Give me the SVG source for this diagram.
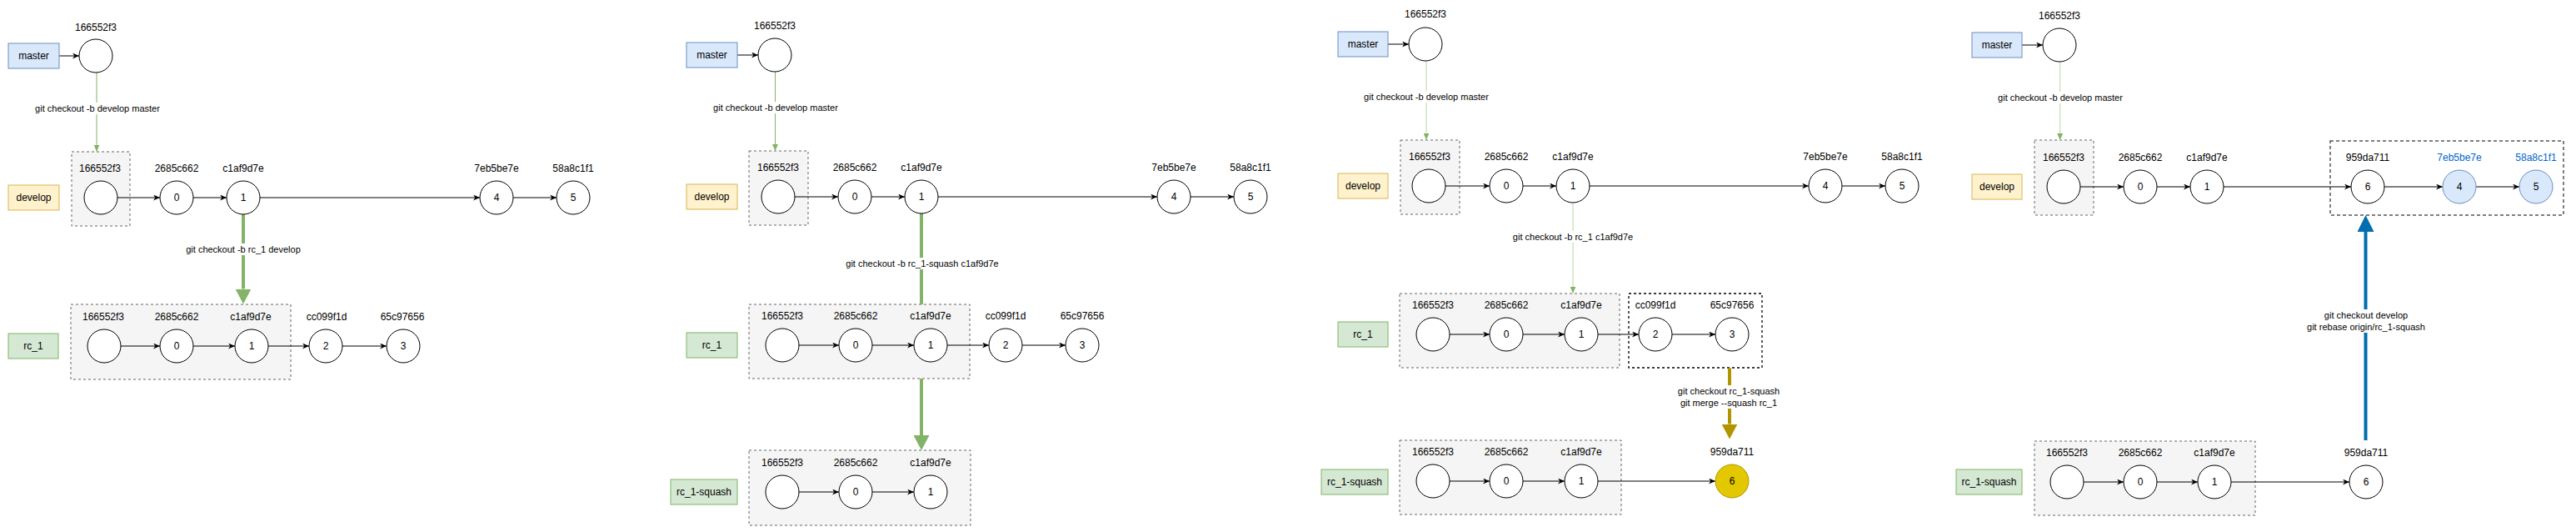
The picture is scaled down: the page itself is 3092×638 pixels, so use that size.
<svg xmlns="http://www.w3.org/2000/svg" width="3092" height="638" viewBox="0 0 3092 638">
<style>
text{font-family:"Liberation Sans",Arial,Helvetica,sans-serif;fill:#000;text-anchor:middle;dominant-baseline:central}
.t{font-size:12px}
.et{font-size:11px}
.blt{fill:#0066CC}
.c{fill:#fff;stroke:#000;stroke-width:1}
.cb{fill:#dae8fc;stroke:#6c8ebf;stroke-width:1}
.cy{fill:#e3c800;stroke:#b09500;stroke-width:1}
.box{fill:#f5f5f5;stroke:#666;stroke-width:1;stroke-dasharray:3 3}
.bk{fill:none;stroke:#000;stroke-width:1.3;stroke-dasharray:3 3}
.dk{fill:none;stroke:#555;stroke-width:1.5;stroke-dasharray:4 3}
.bm{fill:#dae8fc;stroke:#6c8ebf}
.bd{fill:#fff2cc;stroke:#d6b656}
.bg{fill:#d5e8d4;stroke:#82b366}
.e{fill:none;stroke:#000;stroke-width:1;marker-end:url(#a)}
.g{fill:none;stroke:#82b366;stroke-width:1;marker-end:url(#ag)}
.gl{fill:none;stroke:#b7d5a6;stroke-width:1;marker-end:url(#ag)}
.gt{fill:none;stroke:#82b366;stroke-width:4;marker-end:url(#bgr)}
.ot{fill:none;stroke:#b09500;stroke-width:4;marker-end:url(#bo)}
.bt{fill:none;stroke:#006EAF;stroke-width:4;marker-end:url(#bb)}
.lb{fill:#fff;stroke:none}
</style>
<defs>
<marker id="a" viewBox="0 0 10 10" refX="10" refY="5" markerWidth="8" markerHeight="7" markerUnits="userSpaceOnUse" orient="auto" preserveAspectRatio="none"><path d="M0,0 L10,5 L0,10 L3,5 z" fill="#000"/></marker>
<marker id="ag" viewBox="0 0 10 10" refX="10" refY="5" markerWidth="8" markerHeight="7" markerUnits="userSpaceOnUse" orient="auto" preserveAspectRatio="none"><path d="M0,0 L10,5 L0,10 z" fill="#82b366"/></marker>
<marker id="bgr" viewBox="0 0 10 10" refX="0" refY="5" markerWidth="18" markerHeight="19" markerUnits="userSpaceOnUse" orient="auto" preserveAspectRatio="none"><path d="M0,0 L10,5 L0,10 z" fill="#82b366"/></marker>
<marker id="bo" viewBox="0 0 10 10" refX="0" refY="5" markerWidth="18" markerHeight="19" markerUnits="userSpaceOnUse" orient="auto" preserveAspectRatio="none"><path d="M0,0 L10,5 L0,10 z" fill="#b09500"/></marker>
<marker id="bb" viewBox="0 0 10 10" refX="0" refY="5" markerWidth="20" markerHeight="20" markerUnits="userSpaceOnUse" orient="auto" preserveAspectRatio="none"><path d="M0,0 L10,5 L0,10 z" fill="#006EAF"/></marker>
</defs>
<rect width="3092" height="638" fill="#fff"/>

<g id="containers">
<rect class="box" x="86" y="182" width="70" height="89"/>
<rect class="box" x="85" y="365" width="264" height="90"/>
<rect class="box" x="899" y="181" width="71" height="89"/>
<rect class="box" x="899" y="365" width="265" height="89"/>
<rect class="box" x="899" y="540" width="266" height="90"/>
<rect class="box" x="1681" y="168" width="71" height="89"/>
<rect class="box" x="1680" y="352" width="264" height="89"/>
<rect class="bk" x="1955" y="352" width="160" height="89"/>
<rect class="box" x="1680" y="528" width="266" height="89"/>
<rect class="box" x="2442" y="168" width="71" height="90"/>
<rect class="dk" x="2797" y="169" width="280" height="89"/>
<rect class="box" x="2442" y="529" width="265" height="89"/>
</g>

<g id="connectors">
<!-- panel 1 -->
<path class="e" d="M71,67 H95"/>
<path class="g" d="M116,87 V181.7"/>
<rect class="lb" x="41" y="123" width="152" height="14"/>
<text class="et" x="117" y="130">git checkout -b develop master</text>
<path class="e" d="M141,237 H192"/>
<path class="e" d="M232,237 H272"/>
<path class="e" d="M312,237 H576"/>
<path class="e" d="M616,237 H668"/>
<path class="gt" d="M292,257 V346.5"/>
<rect class="lb" x="222" y="292" width="140" height="14"/>
<text class="et" x="292" y="299">git checkout -b rc_1 develop</text>
<path class="e" d="M145,415 H192"/>
<path class="e" d="M232,415 H282"/>
<path class="e" d="M322,415 H371"/>
<path class="e" d="M411,415 H464"/>
<!-- panel 2 -->
<path class="e" d="M885,66 H910"/>
<path class="g" d="M930.5,86 V181"/>
<rect class="lb" x="855" y="122" width="152" height="14"/>
<text class="et" x="931" y="129">git checkout -b develop master</text>
<path class="e" d="M954,236 H1006"/>
<path class="e" d="M1046,236 H1086"/>
<path class="e" d="M1126,236 H1389"/>
<path class="e" d="M1429,236 H1481"/>
<path class="gt" d="M1106,256 V365 M1106,454 V522"/>
<rect class="lb" x="1014" y="309" width="186" height="14"/>
<text class="et" x="1107" y="316">git checkout -b rc_1-squash c1af9d7e</text>
<path class="e" d="M959,414 H1007"/>
<path class="e" d="M1047,414 H1097"/>
<path class="e" d="M1137,414 H1187"/>
<path class="e" d="M1227,414 H1279"/>
<path class="e" d="M959,590 H1007"/>
<path class="e" d="M1047,590 H1097"/>
<!-- panel 3 -->
<path class="e" d="M1666,53 H1691"/>
<path class="gl" d="M1712,73 V167.7"/>
<rect class="lb" x="1636" y="109" width="152" height="14"/>
<text class="et" x="1712" y="116.3">git checkout -b develop master</text>
<path class="e" d="M1735,223 H1788"/>
<path class="e" d="M1828,223 H1868"/>
<path class="e" d="M1908,223 H2171"/>
<path class="e" d="M2211,223 H2263"/>
<path class="gl" d="M1888,243 V351.7"/>
<rect class="lb" x="1815" y="277" width="146" height="14"/>
<text class="et" x="1888" y="284">git checkout -b rc_1 c1af9d7e</text>
<path class="e" d="M1740,401 H1788"/>
<path class="e" d="M1828,401 H1878"/>
<path class="e" d="M1918,401 H1967"/>
<path class="e" d="M2007,401 H2059"/>
<path class="ot" d="M2076,441.3 V508.5"/>
<rect class="lb" x="2013" y="462" width="124" height="28"/>
<text class="et" x="2075" y="469.3">git checkout rc_1-squash</text>
<text class="et" x="2075" y="483.3">git merge --squash rc_1</text>
<path class="e" d="M1740,577 H1788"/>
<path class="e" d="M1828,577 H1878"/>
<path class="e" d="M1918,577 H2059"/>
<!-- panel 4 -->
<path class="e" d="M2427,54 H2452"/>
<path class="gl" d="M2472.7,74 V168"/>
<rect class="lb" x="2397" y="110" width="152" height="14"/>
<text class="et" x="2473" y="117.3">git checkout -b develop master</text>
<path class="e" d="M2497,224 H2549"/>
<path class="e" d="M2589,224 H2629"/>
<path class="e" d="M2669,224 H2822"/>
<path class="e" d="M2862,224 H2932"/>
<path class="e" d="M2972,224 H3024"/>
<path class="bt" d="M2839.5,528 V278"/>
<rect class="lb" x="2768" y="371" width="144" height="28"/>
<text class="et" x="2840" y="378">git checkout develop</text>
<text class="et" x="2840" y="392">git rebase origin/rc_1-squash</text>
<path class="e" d="M2501,578 H2549"/>
<path class="e" d="M2589,578 H2638"/>
<path class="e" d="M2678,578 H2820"/>
</g>

<!-- ===== Panel 1 nodes ===== -->
<g id="p1-master-label"><rect class="bm" x="10" y="52" width="61" height="30"/><text class="t" x="40.5" y="67">master</text></g>
<g id="p1-master-c"><circle class="c" cx="115" cy="67" r="20"/><text class="t" x="115" y="32.5">166552f3</text></g>
<g id="p1-develop-label"><rect class="bd" x="10" y="222" width="61" height="30"/><text class="t" x="40.5" y="237">develop</text></g>
<g id="p1-d-init"><circle class="c" cx="121" cy="237" r="20"/><text class="t" x="120" y="201.7">166552f3</text></g>
<g id="p1-d-0"><circle class="c" cx="212" cy="237" r="20"/><text class="t" x="212" y="237">0</text><text class="t" x="212" y="201.7">2685c662</text></g>
<g id="p1-d-1"><circle class="c" cx="292" cy="237" r="20"/><text class="t" x="292" y="237">1</text><text class="t" x="292" y="201.7">c1af9d7e</text></g>
<g id="p1-d-4"><circle class="c" cx="596" cy="237" r="20"/><text class="t" x="596" y="237">4</text><text class="t" x="596" y="201.7">7eb5be7e</text></g>
<g id="p1-d-5"><circle class="c" cx="688" cy="237" r="20"/><text class="t" x="688" y="237">5</text><text class="t" x="688" y="201.7">58a8c1f1</text></g>
<g id="p1-rc1-label"><rect class="bg" x="10" y="400" width="60" height="30"/><text class="t" x="40" y="415">rc_1</text></g>
<g id="p1-r-init"><circle class="c" cx="125" cy="415" r="20"/><text class="t" x="124" y="380">166552f3</text></g>
<g id="p1-r-0"><circle class="c" cx="212" cy="415" r="20"/><text class="t" x="212" y="415">0</text><text class="t" x="212" y="380">2685c662</text></g>
<g id="p1-r-1"><circle class="c" cx="302" cy="415" r="20"/><text class="t" x="302" y="415">1</text><text class="t" x="301" y="380">c1af9d7e</text></g>
<g id="p1-r-2"><circle class="c" cx="391" cy="415" r="20"/><text class="t" x="391" y="415">2</text><text class="t" x="392" y="380">cc099f1d</text></g>
<g id="p1-r-3"><circle class="c" cx="484" cy="415" r="20"/><text class="t" x="484" y="415">3</text><text class="t" x="483" y="380">65c97656</text></g>

<!-- ===== Panel 2 nodes ===== -->
<g id="p2-master-label"><rect class="bm" x="824" y="51" width="61" height="30"/><text class="t" x="854.5" y="66">master</text></g>
<g id="p2-master-c"><circle class="c" cx="930" cy="66" r="20"/><text class="t" x="930" y="30.7">166552f3</text></g>
<g id="p2-develop-label"><rect class="bd" x="824" y="221" width="61" height="30"/><text class="t" x="854.5" y="236">develop</text></g>
<g id="p2-d-init"><circle class="c" cx="934" cy="236" r="20"/><text class="t" x="934" y="201">166552f3</text></g>
<g id="p2-d-0"><circle class="c" cx="1026" cy="236" r="20"/><text class="t" x="1026" y="236">0</text><text class="t" x="1026" y="201">2685c662</text></g>
<g id="p2-d-1"><circle class="c" cx="1106" cy="236" r="20"/><text class="t" x="1106" y="236">1</text><text class="t" x="1106" y="201">c1af9d7e</text></g>
<g id="p2-d-4"><circle class="c" cx="1409" cy="236" r="20"/><text class="t" x="1409" y="236">4</text><text class="t" x="1409" y="201">7eb5be7e</text></g>
<g id="p2-d-5"><circle class="c" cx="1501" cy="236" r="20"/><text class="t" x="1501" y="236">5</text><text class="t" x="1501" y="201">58a8c1f1</text></g>
<g id="p2-rc1-label"><rect class="bg" x="824" y="399" width="61" height="30"/><text class="t" x="854.5" y="414">rc_1</text></g>
<g id="p2-r-init"><circle class="c" cx="939" cy="414" r="20"/><text class="t" x="939" y="379">166552f3</text></g>
<g id="p2-r-0"><circle class="c" cx="1027" cy="414" r="20"/><text class="t" x="1027" y="414">0</text><text class="t" x="1027" y="379">2685c662</text></g>
<g id="p2-r-1"><circle class="c" cx="1117" cy="414" r="20"/><text class="t" x="1117" y="414">1</text><text class="t" x="1117" y="379">c1af9d7e</text></g>
<g id="p2-r-2"><circle class="c" cx="1207" cy="414" r="20"/><text class="t" x="1207" y="414">2</text><text class="t" x="1207" y="379">cc099f1d</text></g>
<g id="p2-r-3"><circle class="c" cx="1299" cy="414" r="20"/><text class="t" x="1299" y="414">3</text><text class="t" x="1299" y="379">65c97656</text></g>
<g id="p2-squash-label"><rect class="bg" x="805" y="575" width="80" height="30"/><text class="t" x="845" y="590">rc_1-squash</text></g>
<g id="p2-s-init"><circle class="c" cx="939" cy="590" r="20"/><text class="t" x="939" y="555">166552f3</text></g>
<g id="p2-s-0"><circle class="c" cx="1027" cy="590" r="20"/><text class="t" x="1027" y="590">0</text><text class="t" x="1027" y="555">2685c662</text></g>
<g id="p2-s-1"><circle class="c" cx="1117" cy="590" r="20"/><text class="t" x="1117" y="590">1</text><text class="t" x="1117" y="555">c1af9d7e</text></g>

<!-- ===== Panel 3 nodes ===== -->
<g id="p3-master-label"><rect class="bm" x="1606" y="38" width="60" height="30"/><text class="t" x="1636" y="53">master</text></g>
<g id="p3-master-c"><circle class="c" cx="1711" cy="53" r="20"/><text class="t" x="1711" y="17.3">166552f3</text></g>
<g id="p3-develop-label"><rect class="bd" x="1606" y="208" width="60" height="30"/><text class="t" x="1636" y="223">develop</text></g>
<g id="p3-d-init"><circle class="c" cx="1715" cy="223" r="20"/><text class="t" x="1716" y="188">166552f3</text></g>
<g id="p3-d-0"><circle class="c" cx="1808" cy="223" r="20"/><text class="t" x="1808" y="223">0</text><text class="t" x="1808" y="188">2685c662</text></g>
<g id="p3-d-1"><circle class="c" cx="1888" cy="223" r="20"/><text class="t" x="1888" y="223">1</text><text class="t" x="1888" y="188">c1af9d7e</text></g>
<g id="p3-d-4"><circle class="c" cx="2191" cy="223" r="20"/><text class="t" x="2191" y="223">4</text><text class="t" x="2191" y="188">7eb5be7e</text></g>
<g id="p3-d-5"><circle class="c" cx="2283" cy="223" r="20"/><text class="t" x="2283" y="223">5</text><text class="t" x="2283" y="188">58a8c1f1</text></g>
<g id="p3-rc1-label"><rect class="bg" x="1606" y="386" width="60" height="30"/><text class="t" x="1636" y="401">rc_1</text></g>
<g id="p3-r-init"><circle class="c" cx="1720" cy="401" r="20"/><text class="t" x="1720" y="366">166552f3</text></g>
<g id="p3-r-0"><circle class="c" cx="1808" cy="401" r="20"/><text class="t" x="1808" y="401">0</text><text class="t" x="1808" y="366">2685c662</text></g>
<g id="p3-r-1"><circle class="c" cx="1898" cy="401" r="20"/><text class="t" x="1898" y="401">1</text><text class="t" x="1898" y="366">c1af9d7e</text></g>
<g id="p3-r-2"><circle class="c" cx="1987" cy="401" r="20"/><text class="t" x="1987" y="401">2</text><text class="t" x="1987" y="366">cc099f1d</text></g>
<g id="p3-r-3"><circle class="c" cx="2079" cy="401" r="20"/><text class="t" x="2079" y="401">3</text><text class="t" x="2079" y="366">65c97656</text></g>
<g id="p3-squash-label"><rect class="bg" x="1586" y="563" width="80" height="30"/><text class="t" x="1626" y="578">rc_1-squash</text></g>
<g id="p3-s-init"><circle class="c" cx="1720" cy="577" r="20"/><text class="t" x="1720" y="542">166552f3</text></g>
<g id="p3-s-0"><circle class="c" cx="1808" cy="577" r="20"/><text class="t" x="1808" y="577">0</text><text class="t" x="1808" y="542">2685c662</text></g>
<g id="p3-s-1"><circle class="c" cx="1898" cy="577" r="20"/><text class="t" x="1898" y="577">1</text><text class="t" x="1898" y="542">c1af9d7e</text></g>
<g id="p3-s-6"><circle class="cy" cx="2079" cy="577" r="20"/><text class="t" x="2079" y="577">6</text><text class="t" x="2079" y="542">959da711</text></g>

<!-- ===== Panel 4 nodes ===== -->
<g id="p4-master-label"><rect class="bm" x="2367" y="39" width="60" height="30"/><text class="t" x="2397" y="54">master</text></g>
<g id="p4-master-c"><circle class="c" cx="2472" cy="54" r="20"/><text class="t" x="2472" y="19">166552f3</text></g>
<g id="p4-develop-label"><rect class="bd" x="2367" y="209" width="60" height="30"/><text class="t" x="2397" y="224">develop</text></g>
<g id="p4-d-init"><circle class="c" cx="2477" cy="224" r="20"/><text class="t" x="2477" y="189">166552f3</text></g>
<g id="p4-d-0"><circle class="c" cx="2569" cy="224" r="20"/><text class="t" x="2569" y="224">0</text><text class="t" x="2569" y="189">2685c662</text></g>
<g id="p4-d-1"><circle class="c" cx="2649" cy="224" r="20"/><text class="t" x="2649" y="224">1</text><text class="t" x="2649" y="189">c1af9d7e</text></g>
<g id="p4-d-6"><circle class="c" cx="2842" cy="224" r="20"/><text class="t" x="2842" y="224">6</text><text class="t" x="2842" y="189">959da711</text></g>
<g id="p4-d-4"><circle class="cb" cx="2952" cy="224" r="20"/><text class="t" x="2952" y="224">4</text><text class="t blt" x="2952" y="189">7eb5be7e</text></g>
<g id="p4-d-5"><circle class="cb" cx="3044" cy="224" r="20"/><text class="t" x="3044" y="224">5</text><text class="t blt" x="3044" y="189">58a8c1f1</text></g>
<g id="p4-squash-label"><rect class="bg" x="2348" y="563" width="79" height="30"/><text class="t" x="2387.5" y="578">rc_1-squash</text></g>
<g id="p4-s-init"><circle class="c" cx="2481" cy="578" r="20"/><text class="t" x="2481" y="543">166552f3</text></g>
<g id="p4-s-0"><circle class="c" cx="2569" cy="578" r="20"/><text class="t" x="2569" y="578">0</text><text class="t" x="2569" y="543">2685c662</text></g>
<g id="p4-s-1"><circle class="c" cx="2658" cy="578" r="20"/><text class="t" x="2658" y="578">1</text><text class="t" x="2658" y="543">c1af9d7e</text></g>
<g id="p4-s-6"><circle class="c" cx="2840" cy="578" r="20"/><text class="t" x="2840" y="578">6</text><text class="t" x="2840" y="543">959da711</text></g>
</svg>
